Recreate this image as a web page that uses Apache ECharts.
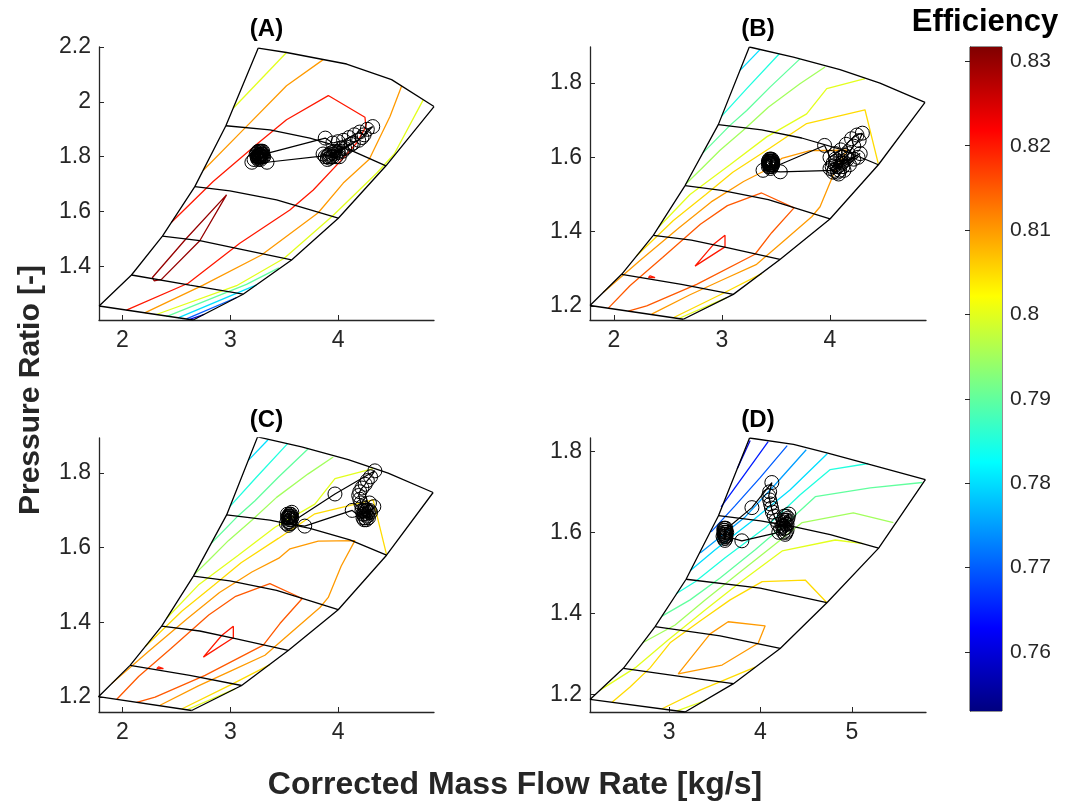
<!DOCTYPE html>
<html><head><meta charset="utf-8">
<script src="https://cdn.jsdelivr.net/npm/echarts@6/dist/echarts.min.js"></script>
<style>html,body{margin:0;padding:0;background:#fff}#c{width:1067px;height:808px}</style>
</head><body><div id="c"></div>
<script>
// ---------- axis ranges & ticks ----------
const A_X_RANGE = [1.783, 4.888], A_Y_RANGE = [1.205, 2.2];
const B_X_RANGE = [1.778, 4.889], B_Y_RANGE = [1.162, 1.897];
const C_X_RANGE = [1.783, 4.888], C_Y_RANGE = [1.160, 1.894];
const D_X_RANGE = [2.135, 5.81],  D_Y_RANGE = [1.156, 1.833];
const ABC_X_TICKS = [2, 3, 4];
const D_X_TICKS = [3, 4, 5];
const A_Y_TICKS = [1.4, 1.6, 1.8, 2, 2.2];
const BCD_Y_TICKS = [1.2, 1.4, 1.6, 1.8];
const CBAR_RANGE = [0.753, 0.8317];
const CBAR_TICKS = [0.76, 0.77, 0.78, 0.79, 0.8, 0.81, 0.82, 0.83];
const PANEL_TITLES = ['(A)', '(B)', '(C)', '(D)'];

// ---------- compressor map (A) ----------
const A_SURGE = [[1.784,1.256],[2.084,1.369],[2.371,1.511],[2.671,1.691],[2.959,1.913],[3.259,2.196]];
const A_TOP = [[3.259,2.196],[3.521,2.180],[4.078,2.138],[4.495,2.081],[4.888,1.983]];
const A_CHOKE = [[4.888,1.983],[4.443,1.767],[4.001,1.576],[3.568,1.424],[3.119,1.299],[2.656,1.205]];
const A_BOTTOM = [[1.784,1.256],[2.656,1.205]];
const A_SPEED1 = [[2.959,1.913],[3.367,1.898],[3.738,1.868],[4.109,1.825],[4.443,1.767]];
const A_SPEED2 = [[2.671,1.691],[2.996,1.676],[3.429,1.643],[4.001,1.576]];
const A_SPEED3 = [[2.371,1.511],[2.717,1.494],[3.058,1.466],[3.568,1.424]];
const A_SPEED4 = [[2.084,1.369],[2.625,1.332],[3.119,1.299]];
// efficiency contours (A)
const A_E830 = [[2.965,1.661],[2.717,1.494],[2.362,1.353],[2.294,1.348],[2.278,1.360],[2.594,1.503],[2.965,1.661]];
const A_E820 = [[2.037,1.241],[2.609,1.339],[3.088,1.485],[3.552,1.606],[3.769,1.679],[4.047,1.795],[4.171,1.850],[4.257,1.910],[4.248,1.944],[3.908,2.023],[3.521,1.935],[3.259,1.850],[2.841,1.710],[2.455,1.561]];
const A_E810A = [[2.748,1.750],[3.119,1.898],[3.521,2.059],[3.861,2.154]];
const A_E810B = [[4.588,2.058],[4.480,1.947],[4.288,1.791],[4.047,1.704],[3.815,1.596],[3.289,1.442],[2.748,1.332],[2.207,1.231]];
const A_E800A = [[3.027,1.977],[3.521,2.180]];
const A_E800B = [[4.789,2.008],[4.520,1.810],[4.356,1.740],[3.950,1.585],[3.500,1.430],[3.058,1.330],[2.315,1.225]];
const A_E790 = [[3.450,1.395],[3.150,1.335],[2.408,1.217]];
const A_E780 = [[3.243,1.333],[2.516,1.213]];
const A_E770 = [[3.058,1.287],[2.594,1.209]];
const A_E760 = [[2.760,1.226],[2.625,1.207]];
const A_CONTOURS = [[0.83,A_E830],[0.82,A_E820],[0.81,A_E810A],[0.81,A_E810B],[0.80,A_E800A],[0.80,A_E800B],[0.79,A_E790],[0.78,A_E780],[0.77,A_E770],[0.76,A_E760]];
// operating points (A)
const A_PATH = [[3.25,1.80],[3.27,1.81],[3.29,1.80],[3.26,1.79],[3.28,1.82],[3.30,1.81],[3.24,1.81],[3.27,1.80],[3.29,1.82],[3.31,1.80],[3.26,1.82],[3.28,1.79],[3.22,1.79],[3.30,1.82],[3.26,1.805],[3.28,1.80],[3.25,1.815],[3.29,1.81],[3.27,1.795],[3.30,1.80],[3.26,1.80],[3.28,1.815],[3.27,1.82],[3.25,1.795],[3.27,1.805],[3.88,1.868],[3.95,1.85],[4.00,1.855],[4.05,1.86],[4.10,1.87],[4.15,1.88],[4.20,1.89],[4.24,1.88],[4.27,1.90],[4.32,1.91],[4.22,1.87],[4.12,1.845],[4.06,1.83],[4.00,1.815],[3.95,1.80],[3.92,1.81],[3.97,1.82],[4.03,1.83],[4.08,1.835],[3.93,1.80],[4.01,1.80],[3.92,1.795],[3.96,1.81],[4.00,1.82],[3.94,1.815],[3.98,1.80],[4.04,1.82],[3.90,1.80],[4.14,1.85],[4.19,1.86],[3.88,1.80],[3.90,1.79],[3.86,1.81],[3.91,1.805],[3.34,1.78],[3.20,1.78],[3.28,1.805]];

// ---------- compressor map (B and C) ----------
const BC_SURGE = [[1.778,1.201],[2.071,1.285],[2.364,1.390],[2.658,1.524],[2.966,1.688],[3.253,1.897]];
const BC_TOP = [[3.253,1.897],[3.661,1.870],[4.093,1.836],[4.463,1.800],[4.880,1.748]];
const BC_CHOKE = [[4.880,1.748],[4.448,1.580],[4.000,1.434],[3.537,1.325],[3.105,1.231],[2.642,1.164]];
const BC_BOTTOM = [[1.778,1.201],[2.642,1.164]];
const BC_SPEED1 = [[2.966,1.688],[3.367,1.674],[3.738,1.652],[4.109,1.621],[4.448,1.580]];
const BC_SPEED2 = [[2.658,1.524],[2.996,1.511],[3.429,1.486],[4.000,1.434]];
const BC_SPEED3 = [[2.364,1.390],[2.717,1.377],[3.058,1.356],[3.537,1.325]];
const BC_SPEED4 = [[2.071,1.285],[2.625,1.258],[3.105,1.231]];
const BC_E820 = [[2.750,1.307],[2.920,1.365],[3.028,1.390],[3.028,1.359],[2.750,1.307]];
const BC_E820S = [[2.318,1.276],[2.380,1.276],[2.335,1.281],[2.318,1.276]];
const BC_E815 = [[1.948,1.194],[2.150,1.255],[2.450,1.330],[2.800,1.420],[3.050,1.470],[3.367,1.504],[3.667,1.464],[3.460,1.397],[3.306,1.339],[2.766,1.258],[2.303,1.200],[2.133,1.186]];
const BC_E810 = [[1.900,1.236],[2.241,1.322],[2.600,1.410],[2.900,1.480],[3.200,1.535],[3.450,1.572],[3.553,1.597],[3.815,1.618],[4.155,1.619],[4.028,1.551],[3.908,1.467],[3.831,1.440],[3.553,1.370],[3.321,1.312],[3.012,1.271],[2.704,1.230],[2.349,1.178]];
const BC_E805 = [[2.210,1.335],[2.550,1.430],[2.850,1.500],[3.100,1.560],[3.445,1.625],[3.784,1.691],[4.324,1.728],[4.447,1.583]];
const BC_E805B = [[3.368,1.287],[3.012,1.234],[2.549,1.168]];
const BC_E800 = [[2.410,1.411],[2.704,1.500],[3.074,1.580],[3.414,1.655],[3.784,1.717],[3.970,1.785],[4.324,1.812]];
const BC_E800B = [[3.044,1.222],[2.600,1.166]];
const BC_E795 = [[2.665,1.528],[2.796,1.565],[2.982,1.619],[3.197,1.673],[3.429,1.735],[3.722,1.798],[3.954,1.843]];
const BC_E790 = [[2.824,1.612],[3.074,1.686],[3.229,1.726],[3.445,1.789],[3.722,1.865]];
const BC_E785 = [[2.997,1.711],[3.229,1.785],[3.531,1.879]];
const BC_E780 = [[3.167,1.834],[3.352,1.890]];
const BC_CONTOURS = [[0.82,BC_E820],[0.82,BC_E820S],[0.815,BC_E815],[0.81,BC_E810],[0.805,BC_E805],[0.805,BC_E805B],[0.80,BC_E800],[0.80,BC_E800B],[0.795,BC_E795],[0.79,BC_E790],[0.785,BC_E785],[0.78,BC_E780]];
const B_PATH = [[3.44,1.58],[3.46,1.59],[3.45,1.575],[3.43,1.585],[3.47,1.58],[3.45,1.595],[3.44,1.59],[3.46,1.575],[3.43,1.575],[3.45,1.585],[3.47,1.59],[3.44,1.585],[3.46,1.58],[3.45,1.59],[3.44,1.575],[3.46,1.585],[3.45,1.58],[3.43,1.59],[3.47,1.585],[3.44,1.595],[3.46,1.595],[3.45,1.57],[3.95,1.632],[4.00,1.60],[4.05,1.61],[4.10,1.62],[4.15,1.635],[4.20,1.65],[4.25,1.66],[4.30,1.665],[4.27,1.645],[4.22,1.63],[4.17,1.61],[4.12,1.59],[4.07,1.575],[4.03,1.56],[4.08,1.555],[4.13,1.565],[4.18,1.58],[4.22,1.595],[4.26,1.60],[4.12,1.575],[4.05,1.58],[4.02,1.575],[4.06,1.59],[4.10,1.60],[4.14,1.605],[4.09,1.565],[4.05,1.595],[4.11,1.585],[4.16,1.595],[4.03,1.585],[4.07,1.56],[4.00,1.57],[4.28,1.61],[4.04,1.565],[3.54,1.561],[3.38,1.565],[3.45,1.58]];
const C_PATH = [[3.53,1.68],[3.55,1.69],[3.57,1.68],[3.54,1.67],[3.56,1.665],[3.55,1.675],[3.53,1.69],[3.57,1.695],[3.54,1.66],[3.56,1.685],[3.55,1.68],[3.54,1.685],[3.56,1.675],[3.55,1.67],[3.54,1.68],[3.56,1.69],[3.55,1.685],[3.55,1.665],[3.97,1.744],[4.34,1.806],[4.30,1.79],[4.27,1.78],[4.25,1.77],[4.22,1.76],[4.20,1.75],[4.19,1.74],[4.20,1.73],[4.21,1.72],[4.22,1.71],[4.24,1.70],[4.26,1.69],[4.28,1.68],[4.30,1.695],[4.33,1.71],[4.25,1.68],[4.23,1.69],[4.27,1.70],[4.24,1.69],[4.26,1.70],[4.28,1.695],[4.25,1.705],[4.27,1.685],[4.23,1.68],[4.29,1.70],[4.26,1.675],[4.29,1.72],[4.22,1.70],[4.24,1.675],[4.13,1.70],[3.69,1.658],[3.52,1.665],[3.55,1.68]];

// ---------- compressor map (D) ----------
const D_SURGE = [[2.135,1.187],[2.500,1.264],[2.847,1.367],[3.186,1.484],[3.540,1.641],[3.880,1.833]];
const D_TOP = [[3.880,1.833],[4.361,1.817],[4.726,1.796],[5.201,1.767],[5.803,1.730]];
const D_CHOKE = [[5.803,1.730],[5.292,1.561],[4.726,1.426],[4.215,1.313],[3.704,1.226],[3.175,1.156]];
const D_BOTTOM = [[2.135,1.187],[3.175,1.156]];
const D_SPEED1 = [[3.540,1.641],[4.000,1.628],[4.361,1.614],[4.763,1.594],[5.292,1.561]];
const D_SPEED2 = [[3.186,1.484],[3.996,1.462],[4.726,1.426]];
const D_SPEED3 = [[2.847,1.367],[3.558,1.344],[4.215,1.313]];
const D_SPEED4 = [[2.500,1.264],[3.157,1.243],[3.704,1.226]];
const D_E760 = [[3.887,1.827],[3.745,1.757]];
const D_E765 = [[4.084,1.824],[3.832,1.745],[3.569,1.663]];
const D_E770 = [[4.292,1.814],[3.996,1.735],[3.723,1.666],[3.460,1.601]];
const D_E775 = [[4.500,1.804],[4.161,1.718],[3.832,1.638],[3.340,1.549]];
const D_E780 = [[4.730,1.794],[4.325,1.705],[3.887,1.624],[3.504,1.557],[3.230,1.505]];
const D_E785 = [[5.179,1.770],[4.763,1.755],[4.434,1.693],[4.051,1.611],[3.613,1.537],[3.285,1.478],[3.077,1.448]];
const D_E790 = [[5.770,1.723],[5.201,1.710],[4.599,1.688],[4.325,1.631],[3.942,1.557],[3.558,1.487],[3.230,1.433],[2.923,1.393]];
const D_E795 = [[5.453,1.624],[5.015,1.648],[4.456,1.624],[4.139,1.567],[3.777,1.502],[3.394,1.433],[3.066,1.371],[2.711,1.327]];
const D_E800 = [[5.124,1.572],[4.818,1.581],[4.237,1.554],[3.810,1.482],[3.394,1.408],[2.989,1.334],[2.628,1.265],[2.245,1.210]];
const D_E800B = [[3.405,1.185],[3.088,1.159]];
const D_E805 = [[4.727,1.426],[4.489,1.482],[4.018,1.478],[3.668,1.433],[3.339,1.381],[3.011,1.327],[2.792,1.265],[2.573,1.218],[2.376,1.180]];
const D_E805B = [[3.942,1.267],[3.339,1.210],[2.923,1.164]];
const D_E810 = [[3.099,1.250],[3.449,1.349],[3.646,1.379],[4.051,1.369],[3.974,1.326],[3.580,1.272],[3.099,1.250]];
const D_CONTOURS = [[0.76,D_E760],[0.765,D_E765],[0.77,D_E770],[0.775,D_E775],[0.78,D_E780],[0.785,D_E785],[0.79,D_E790],[0.795,D_E795],[0.80,D_E800],[0.80,D_E800B],[0.805,D_E805],[0.805,D_E805B],[0.81,D_E810]];
const D_PATH = [[3.60,1.60],[3.62,1.59],[3.61,1.61],[3.59,1.59],[3.63,1.60],[3.61,1.58],[3.60,1.605],[3.62,1.60],[3.60,1.585],[3.62,1.61],[3.61,1.595],[3.60,1.595],[3.62,1.595],[3.61,1.60],[3.60,1.61],[3.62,1.585],[3.61,1.59],[3.61,1.605],[3.906,1.661],[4.124,1.723],[4.10,1.70],[4.09,1.69],[4.10,1.68],[4.11,1.67],[4.12,1.66],[4.13,1.65],[4.15,1.64],[4.17,1.63],[4.19,1.62],[4.22,1.61],[4.25,1.60],[4.27,1.61],[4.29,1.62],[4.30,1.635],[4.28,1.64],[4.26,1.625],[4.24,1.615],[4.26,1.61],[4.28,1.62],[4.27,1.63],[4.25,1.615],[4.29,1.63],[4.26,1.64],[4.28,1.60],[4.27,1.595],[4.29,1.605],[4.31,1.645],[4.25,1.63],[4.20,1.60],[3.796,1.579],[3.62,1.59]];

// ---------- helpers ----------
function jet(v) {
  const t = (v - CBAR_RANGE[0]) / (CBAR_RANGE[1] - CBAR_RANGE[0]);
  const c = x => Math.max(0, Math.min(1, x));
  const r = c(1.5 - Math.abs(4 * t - 3)), g = c(1.5 - Math.abs(4 * t - 2)), b = c(1.5 - Math.abs(4 * t - 1));
  return 'rgb(' + Math.round(r * 255) + ',' + Math.round(g * 255) + ',' + Math.round(b * 255) + ')';
}
const FONT = '"Liberation Sans", Arial, Helvetica, sans-serif';
const AX = '#262626';

const panels = [
  { grid: {left: 99, top: 47, width: 335, height: 273}, xr: A_X_RANGE, yr: A_Y_RANGE, xt: ABC_X_TICKS, yt: A_Y_TICKS,
    map: [A_SURGE, A_TOP, A_CHOKE, A_BOTTOM, A_SPEED1, A_SPEED2, A_SPEED3, A_SPEED4], contours: A_CONTOURS, path: A_PATH },
  { grid: {left: 590, top: 47, width: 336, height: 273}, xr: B_X_RANGE, yr: B_Y_RANGE, xt: ABC_X_TICKS, yt: BCD_Y_TICKS,
    map: [BC_SURGE, BC_TOP, BC_CHOKE, BC_BOTTOM, BC_SPEED1, BC_SPEED2, BC_SPEED3, BC_SPEED4], contours: BC_CONTOURS, path: B_PATH },
  { grid: {left: 99, top: 438, width: 335, height: 274}, xr: C_X_RANGE, yr: C_Y_RANGE, xt: ABC_X_TICKS, yt: BCD_Y_TICKS,
    map: [BC_SURGE, BC_TOP, BC_CHOKE, BC_BOTTOM, BC_SPEED1, BC_SPEED2, BC_SPEED3, BC_SPEED4], contours: BC_CONTOURS, path: C_PATH },
  { grid: {left: 590, top: 438, width: 336, height: 274}, xr: D_X_RANGE, yr: D_Y_RANGE, xt: D_X_TICKS, yt: BCD_Y_TICKS,
    map: [D_SURGE, D_TOP, D_CHOKE, D_BOTTOM, D_SPEED1, D_SPEED2, D_SPEED3, D_SPEED4], contours: D_CONTOURS, path: D_PATH }
];

const grids = [], xAxes = [], yAxes = [], series = [], graphics = [];
panels.forEach((p, i) => {
  grids.push(Object.assign({containLabel: false}, p.grid));
  xAxes.push({
    gridIndex: i, type: 'value', min: p.xr[0], max: p.xr[1],
    axisLine: {show: true, onZero: false, lineStyle: {color: AX, width: 1.3}},
    axisTick: {show: true, inside: true, length: 5, customValues: p.xt, lineStyle: {color: AX, width: 1}},
    axisLabel: {customValues: p.xt, color: AX, fontSize: 23, fontFamily: FONT, margin: 9},
    splitLine: {show: false}
  });
  yAxes.push({
    gridIndex: i, type: 'value', min: p.yr[0], max: p.yr[1],
    axisLine: {show: true, onZero: false, lineStyle: {color: AX, width: 1.3}},
    axisTick: {show: true, inside: true, length: 5, customValues: p.yt, lineStyle: {color: AX, width: 1}},
    axisLabel: {customValues: p.yt, color: AX, fontSize: 23, fontFamily: FONT, margin: 8},
    splitLine: {show: false}
  });
  p.contours.forEach(([lvl, d]) => {
    series.push({type: 'line', xAxisIndex: i, yAxisIndex: i, data: d, symbol: 'none', silent: true,
      lineStyle: {color: jet(lvl), width: 1.3}, z: 2});
  });
  p.map.forEach(d => {
    series.push({type: 'line', xAxisIndex: i, yAxisIndex: i, data: d, symbol: 'none', silent: true,
      lineStyle: {color: '#000', width: 1.3}, z: 3});
  });
  series.push({type: 'line', xAxisIndex: i, yAxisIndex: i, data: p.path, symbol: 'circle', symbolSize: 14,
    showSymbol: true, showAllSymbol: true, silent: true,
    itemStyle: {color: 'rgba(0,0,0,0)', borderColor: '#000', borderWidth: 1},
    lineStyle: {color: '#000', width: 1.2}, z: 4});
  const cx = p.grid.left + p.grid.width / 2;
  graphics.push({type: 'text', x: cx, y: p.grid.top - 18, style: {text: PANEL_TITLES[i], fill: '#000',
    font: 'bold 24px ' + FONT, textAlign: 'center', textVerticalAlign: 'middle', align: 'center', verticalAlign: 'middle'}});
});

// colorbar
grids.push({left: 970, top: 47, width: 32, height: 664, show: true, borderColor: AX, borderWidth: 1, backgroundColor: 'transparent'});
xAxes.push({gridIndex: 4, type: 'value', min: 0, max: 1, show: false});
yAxes.push({gridIndex: 4, type: 'value', min: CBAR_RANGE[0], max: CBAR_RANGE[1], position: 'right',
  axisLine: {show: true, lineStyle: {color: AX, width: 1}},
  axisTick: {show: true, inside: true, length: 5, customValues: CBAR_TICKS, lineStyle: {color: AX}},
  axisLabel: {customValues: CBAR_TICKS, color: AX, fontSize: 21, fontFamily: FONT, margin: 8},
  splitLine: {show: false}});
const stops = [];
for (let k = 0; k <= 16; k++) {
  const v = CBAR_RANGE[1] - (CBAR_RANGE[1] - CBAR_RANGE[0]) * k / 16;
  stops.push({offset: k / 16, color: jet(v)});
}
series.push({type: 'custom', xAxisIndex: 4, yAxisIndex: 4, silent: true, z: 1,
  data: [[0, CBAR_RANGE[0], 1, CBAR_RANGE[1]]], encode: {x: [0, 2], y: [1, 3]},
  renderItem: function (params, api) {
    const tl = api.coord([api.value(0), api.value(3)]);
    const br = api.coord([api.value(2), api.value(1)]);
    return {type: 'rect', shape: {x: tl[0], y: tl[1], width: br[0] - tl[0], height: br[1] - tl[1]},
      style: {fill: new echarts.graphic.LinearGradient(0, 0, 0, 1, stops)}};
  }});

graphics.push({type: 'text', x: 985, y: 22, style: {text: 'Efficiency', fill: '#000', font: 'bold 31px ' + FONT,
  textAlign: 'center', textVerticalAlign: 'middle', align: 'center', verticalAlign: 'middle'}});
graphics.push({type: 'text', x: 515, y: 785, style: {text: 'Corrected Mass Flow Rate [kg/s]', fill: '#262626', font: 'bold 32px ' + FONT,
  textAlign: 'center', textVerticalAlign: 'middle', align: 'center', verticalAlign: 'middle'}});
graphics.push({type: 'text', x: 31, y: 390, rotation: Math.PI / 2, style: {text: 'Pressure Ratio [-]', fill: '#262626', font: 'bold 30px ' + FONT,
  textAlign: 'center', textVerticalAlign: 'middle', align: 'center', verticalAlign: 'middle'}});

const chart = echarts.init(document.getElementById('c'), null, {renderer: 'canvas'});
chart.setOption({
  animation: false, backgroundColor: '#fff',
  grid: grids, xAxis: xAxes, yAxis: yAxes, series: series, graphic: graphics
});
</script></body></html>
